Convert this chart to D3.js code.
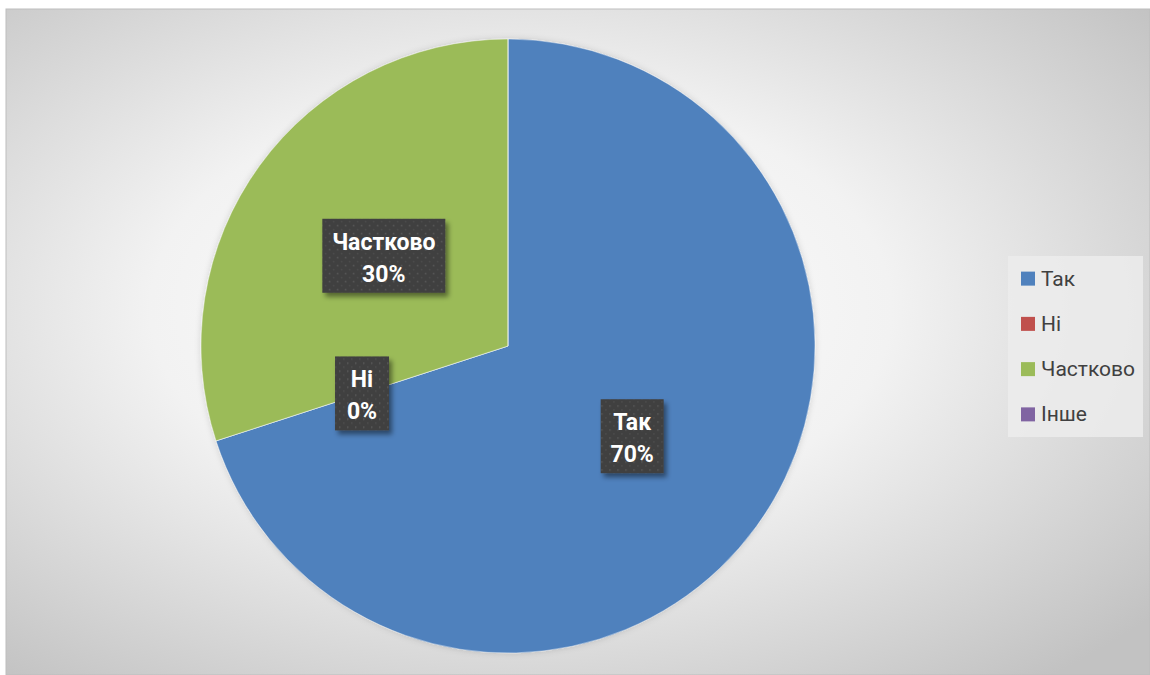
<!DOCTYPE html>
<html>
<head>
<meta charset="utf-8">
<script src="https://cdn.jsdelivr.net/npm/d3@7"></script>
<style>
  body { margin: 0; background: #fff; }
  svg { display: block; }
</style>
</head>
<body>
<div class="chart"></div>
<script>
var categories = ['Так', 'Ні', 'Частково', 'Інше'],
  values = [70, 0, 30, 0],
  percentLabels = ['70%', '0%', '30%', '0%'],
  labelled = [true, true, true, false],
  colors = ['#4F81BD', '#C0504D', '#9BBB59', '#8064A2'];

var width = 1150,
  height = 675,
  cx = 508,
  cy = 346,
  radius = 307;

var svg = d3.select('.chart')
  .append('svg')
  .attr('width', width)
  .attr('height', height);

var defs = svg.append('defs');

var bg = defs.append('radialGradient')
  .attr('id', 'bg')
  .attr('cx', '0.45').attr('cy', '0.45').attr('r', '0.72');
bg.append('stop').attr('offset', '0').attr('stop-color', '#ffffff');
bg.append('stop').attr('offset', '0.45').attr('stop-color', '#f2f2f2');
bg.append('stop').attr('offset', '1').attr('stop-color', '#c2c2c2');

// dotted texture for the label boxes
var pat = defs.append('pattern')
  .attr('id', 'dots')
  .attr('width', 8).attr('height', 8)
  .attr('patternUnits', 'userSpaceOnUse');
pat.append('rect').attr('width', 8).attr('height', 8).attr('fill', '#404040');
pat.append('rect').attr('x', 1).attr('y', 1).attr('width', 1.5).attr('height', 1.5).attr('fill', '#5a5a5a');
pat.append('rect').attr('x', 5).attr('y', 5).attr('width', 1.5).attr('height', 1.5).attr('fill', '#4e4e4e');

var shadow = defs.append('filter')
  .attr('id', 'shadow')
  .attr('x', '-20%').attr('y', '-20%').attr('width', '150%').attr('height', '150%');
shadow.append('feDropShadow')
  .attr('dx', 3).attr('dy', 4)
  .attr('stdDeviation', 2.5)
  .attr('flood-color', '#000')
  .attr('flood-opacity', 0.45);

var pieShadow = defs.append('filter')
  .attr('id', 'pieShadow')
  .attr('x', '-10%').attr('y', '-10%').attr('width', '120%').attr('height', '120%');
pieShadow.append('feDropShadow')
  .attr('dx', 0).attr('dy', 0)
  .attr('stdDeviation', 3)
  .attr('flood-color', '#000')
  .attr('flood-opacity', 0.15);

svg.append('rect')
  .attr('x', 6).attr('y', 9)
  .attr('width', width - 6).attr('height', height - 9)
  .attr('fill', 'url(#bg)')
  .attr('stroke', '#bdbdbd')
  .attr('stroke-width', 1);

var data = categories.map(function (c, i) {
  return { name: c, value: values[i], label: percentLabels[i], show: labelled[i], color: colors[i] };
});

var pie = d3.pie()
  .sort(null)
  .value(function (d) { return d.value; });

var arc = d3.arc()
  .innerRadius(0)
  .outerRadius(radius);

var labelArc = d3.arc()
  .innerRadius(radius * 0.5)
  .outerRadius(radius * 0.5);

var arcs = pie(data);

var g = svg.append('g')
  .attr('transform', 'translate(' + cx + ',' + cy + ')');

g.append('g')
  .attr('filter', 'url(#pieShadow)')
  .selectAll('path')
  .data(arcs)
  .enter()
  .append('path')
  .attr('d', arc)
  .attr('fill', function (d) { return d.data.color; })
  .attr('stroke', '#fff')
  .attr('stroke-width', 0.4);

var boxW = { 'Так': 63, 'Ні': 54, 'Частково': 123 };

var labels = g.append('g')
  .selectAll('g')
  .data(arcs.filter(function (d) { return d.data.show; }))
  .enter()
  .append('g')
  .attr('transform', function (d) {
    var c = labelArc.centroid(d);
    return 'translate(' + c[0] + ',' + c[1] + ')';
  });

labels.append('rect')
  .attr('x', function (d) { return -boxW[d.data.name] / 2; })
  .attr('y', -37)
  .attr('width', function (d) { return boxW[d.data.name]; })
  .attr('height', 74)
  .attr('fill', 'url(#dots)')
  .attr('filter', 'url(#shadow)');

labels.append('text')
  .attr('text-anchor', 'middle')
  .attr('y', -6)
  .attr('fill', '#fff')
  .style('font-family', 'Roboto, "Open Sans", sans-serif')
  .style('font-weight', 'bold')
  .style('font-size', '23px')
  .text(function (d) { return d.data.name; });

labels.append('text')
  .attr('text-anchor', 'middle')
  .attr('y', 26)
  .attr('fill', '#fff')
  .style('font-family', 'Roboto, "Open Sans", sans-serif')
  .style('font-weight', 'bold')
  .style('font-size', '23px')
  .text(function (d) { return d.data.label; });

// legend
var legend = svg.append('g')
  .attr('transform', 'translate(1008,256)');

legend.append('rect')
  .attr('width', 135)
  .attr('height', 181)
  .attr('fill', '#ececec')
  .attr('opacity', 0.85);

var ly = d3.scaleBand()
  .domain(categories)
  .range([0, 181]);

var item = legend.selectAll('.item')
  .data(data)
  .enter()
  .append('g')
  .attr('class', 'item')
  .attr('transform', function (d) {
    return 'translate(13,' + (ly(d.name) + ly.bandwidth() / 2) + ')';
  });

item.append('rect')
  .attr('y', -7)
  .attr('width', 14)
  .attr('height', 14)
  .attr('fill', function (d) { return d.color; });

item.append('text')
  .attr('x', 20)
  .attr('y', 7)
  .attr('fill', '#404040')
  .style('font-family', 'Roboto, "Open Sans", sans-serif')
  .style('font-size', '21px')
  .text(function (d) { return d.name; });
</script>
</body>
</html>
